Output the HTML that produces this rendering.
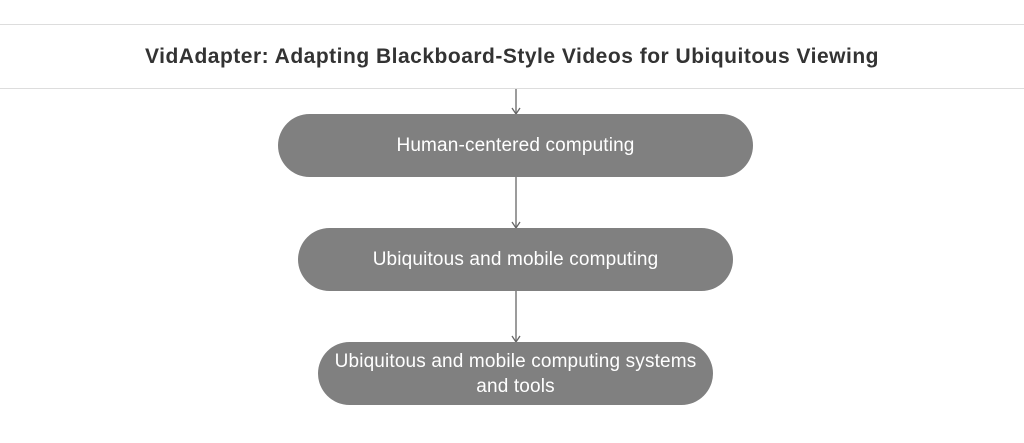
<!DOCTYPE html>
<html><head><style>
body{margin:0;width:1024px;height:443px;background:#fff;position:relative;overflow:hidden;font-family:"Liberation Sans",sans-serif}
.hdr{position:absolute;left:0;top:24px;width:1024px;height:63px;border-top:1px solid #ddd;border-bottom:1px solid #ddd;display:flex;align-items:center;justify-content:center;font-weight:bold;font-size:21px;letter-spacing:0.5px;color:#333}
.n{position:absolute;background:#808080;color:#fff;border-radius:32px;display:flex;align-items:center;justify-content:center;text-align:center;font-size:19px;letter-spacing:0.15px;line-height:25px}
</style></head><body>
<div class="hdr">VidAdapter: Adapting Blackboard-Style Videos for Ubiquitous Viewing</div>
<svg width="1024" height="443" style="position:absolute;left:0;top:0">
<g stroke="#666" stroke-width="1.3" fill="none">
<line x1="516" y1="89" x2="516" y2="114"/><polyline points="512,108 516,114 520,108"/>
<line x1="516" y1="177" x2="516" y2="228"/><polyline points="512,222 516,228 520,222"/>
<line x1="516" y1="291" x2="516" y2="342"/><polyline points="512,336 516,342 520,336"/>
</g></svg>
<div class="n" style="left:278px;top:114px;width:475px;height:63px">Human-centered computing</div>
<div class="n" style="left:298px;top:228px;width:435px;height:63px">Ubiquitous and mobile computing</div>
<div class="n" style="left:318px;top:342px;width:395px;height:63px">Ubiquitous and mobile computing systems<br>and tools</div>
</body></html>
